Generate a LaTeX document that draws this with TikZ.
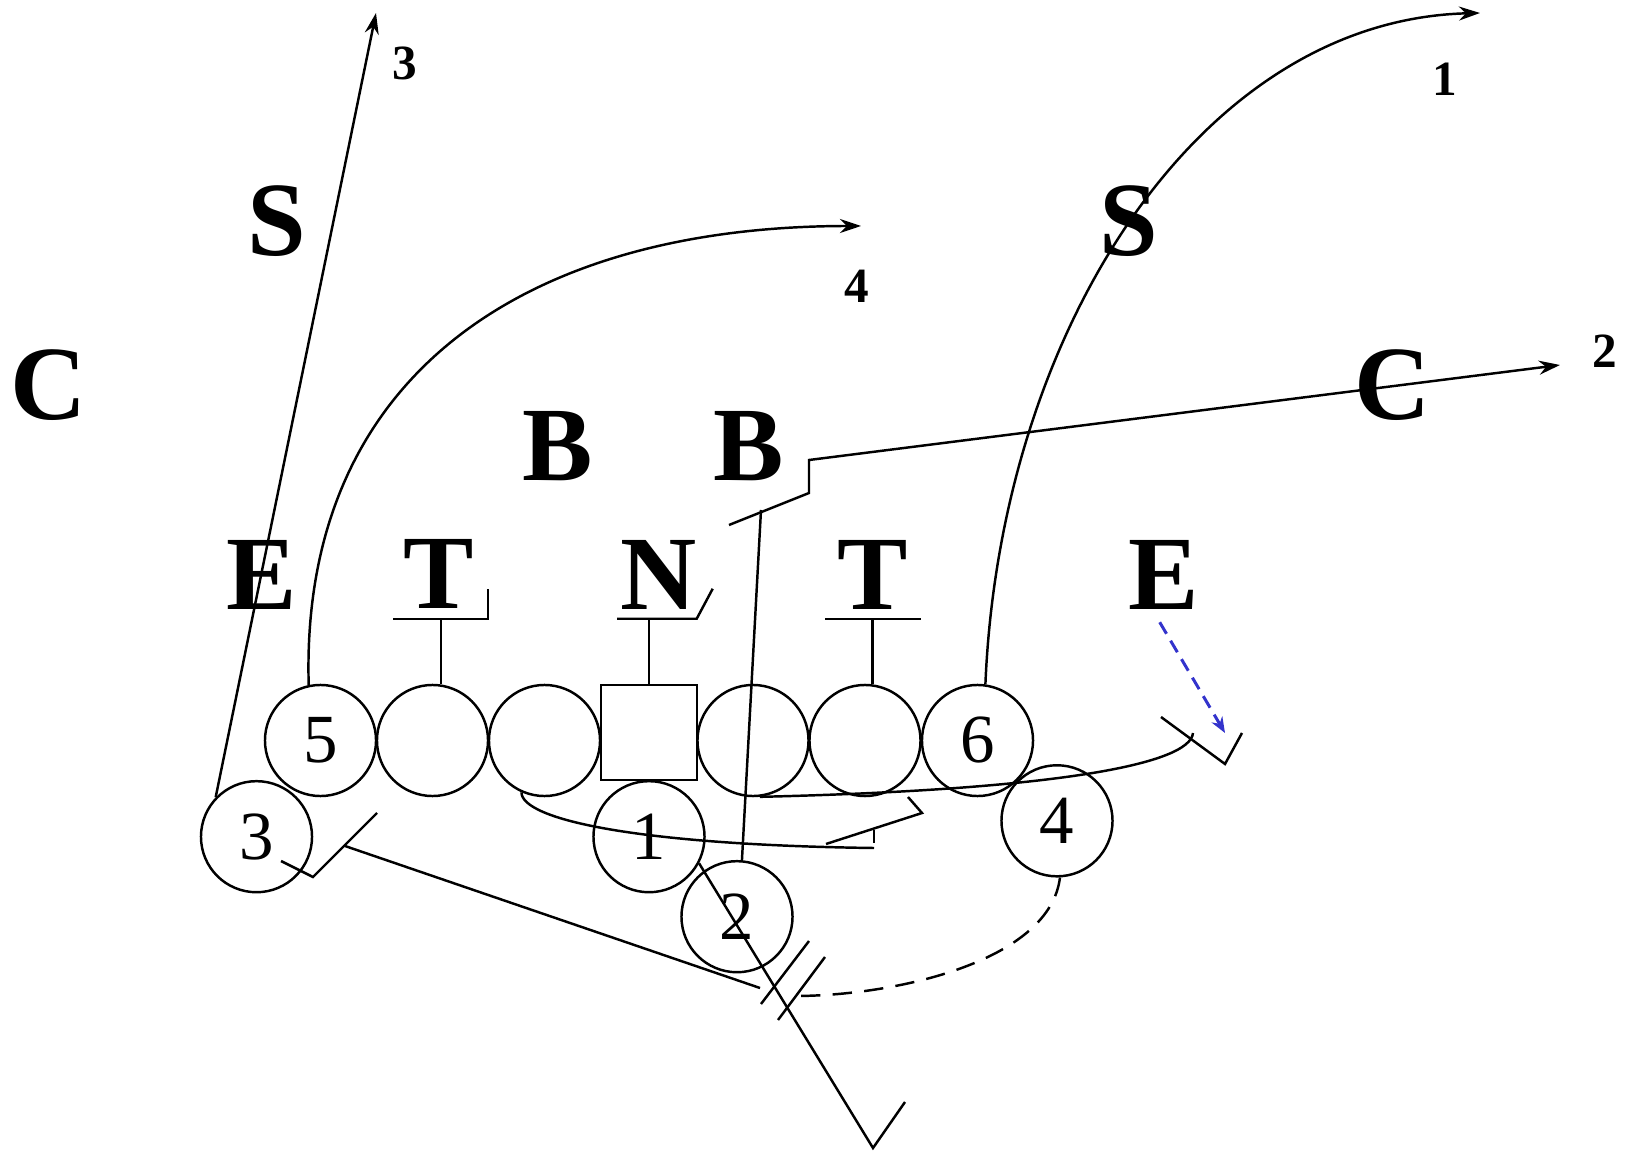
\documentclass[tikz,border=0pt]{standalone}
\usepackage{fontspec}
\setmainfont{Liberation Serif}
\usetikzlibrary{arrows.meta,calc}

\definecolor{blitzblue}{RGB}{51,51,204}

\begin{document}
\begin{tikzpicture}[
  x=0.01cm, y=-0.01cm,
  line width=0.7pt,
  player/.style={draw, circle, minimum size=1.11cm, inner sep=0pt,
                 font=\fontsize{19.6}{20}\selectfont},
  snapper/.style={draw, minimum width=0.956cm, minimum height=0.95cm,
                  inner sep=0pt},
  defender/.style={font=\bfseries\fontsize{30}{30}\selectfont,
                   inner sep=0pt, anchor=base},
  routelabel/.style={font=\bfseries\fontsize{14}{14}\selectfont,
                     inner sep=0pt, anchor=base},
  route/.style={-{Stealth[length=6pt, width=4pt, inset=2pt]}},
  blitz/.style={blitzblue, line width=0.85pt, dash pattern=on 3.8pt off 2.3pt,
                -{Stealth[length=4.5pt, width=3.5pt]}},
  motion/.style={dash pattern=on 5.5pt off 3.5pt},
]

\useasboundingbox (0,0) rectangle (1642,1152);

\node[player] (te5) at (320.5,740.5) {5};
\node[player] (lt) at (432.5,740.5) {};
\node[player] (lg) at (544.5,740.5) {};
\node[snapper] (ctr) at (649,732.5) {};
\node[player] (rg) at (753,740.5) {};
\node[player] (rt) at (865,740.5) {};
\node[player] (te6) at (977.5,740.5) {6};
\node[player] (qb1) at (649,836.7) {1};
\node[player] (rb2) at (737,916.7) {2};
\node[player] (wr3) at (256.5,836.7) {3};
\node[player] (wr4) at (1057,820.8) {4};

\node[defender] (cbL) at (48.5,420) {C};
\node[defender] (sL) at (277,256) {S};
\node[defender] (deL) at (261.5,610) {E};
\node[defender] (dtL) at (439,609) {T};
\node[defender] (lbL) at (558,481) {B};
\node[defender] (lbR) at (748.5,481) {B};
\node[defender] (nt) at (659,610) {N};
\node[defender] (dtR) at (872.7,610) {T};
\node[defender] (deR) at (1163.7,610) {E};
\node[defender] (sR) at (1129,256) {S};
\node[defender] (cbR) at (1392.6,420) {C};

\coordinate (end1) at (1480,13);
\coordinate (end2) at (1560,365);
\coordinate (end3) at (376,13);
\coordinate (end4) at (861,226);
\node[routelabel] (lab1) at (1445,96) {1};
\node[routelabel] (lab2) at (1605,368) {2};
\node[routelabel] (lab3) at (405,80) {3};
\node[routelabel] (lab4) at (857,303) {4};

\draw[route] (wr3.136) -- (end3);
\draw[route] (te5.102) .. controls (300,380) and (520,226) .. (end4);
\draw[route] (te6.82) .. controls (1000,330) and (1200,20) .. (end1);
\coordinate (cut2) at (761,510);
\draw (rb2.85) -- (cut2);
\draw[route] (729,525) -- (809,493) -- (809,460) -- (end2);

\coordinate (vee1) at (873,1148);
\draw (qb1.-28) -- (vee1) -- ++(32,-46);
\draw (761,1004) -- (809,941);
\draw (778,1020) -- (825,957);

\coordinate (vee3) at (313,877);
\draw ($(wr3)+(24.5,24.3)$) -- (vee3) -- ++(64,-64);
\draw (345,846) -- (760,988);
\draw[motion] (wr4.-87) .. controls (1050,960) and (900,995) .. (798,996);

\coordinate (pull) at (874,848);
\draw (lg.-114) .. controls (522,820) and (640,845) .. (pull);
\draw ($(pull)+(0,-18)$) -- ++(0,13);
\draw (908,797) -- (922,813) -- (826,844);

\coordinate (vee6) at (1225,764);
\draw (rg.-83) .. controls (1050,790) and (1190,765) .. (1193,733);
\draw (1161,717) -- (vee6) -- ++(17,-31);
\draw[blitz] ($(deR.south)+(-4,11)$) -- ($(vee6)+(0,-31)$);

\draw ($(lt.north)+(8.5,0)$) -- ++(0,-65) coordinate (tbarL);
\draw ($(tbarL)+(-48,0)$) -- ($(tbarL)+(47,0)$) -- ++(0,-30);
\draw (ctr.north) -- ++(0,-65) coordinate (nbar);
\draw ($(nbar)+(-32,0)$) -- ($(nbar)+(47.7,0)$) -- ++(16,-30);
\draw ($(rt.north)+(7.7,0)$) -- ++(0,-64.5) coordinate (tbarR);
\draw ($(tbarR)+(-47.7,0)$) -- ($(tbarR)+(48,0)$);

\end{tikzpicture}
\end{document}
